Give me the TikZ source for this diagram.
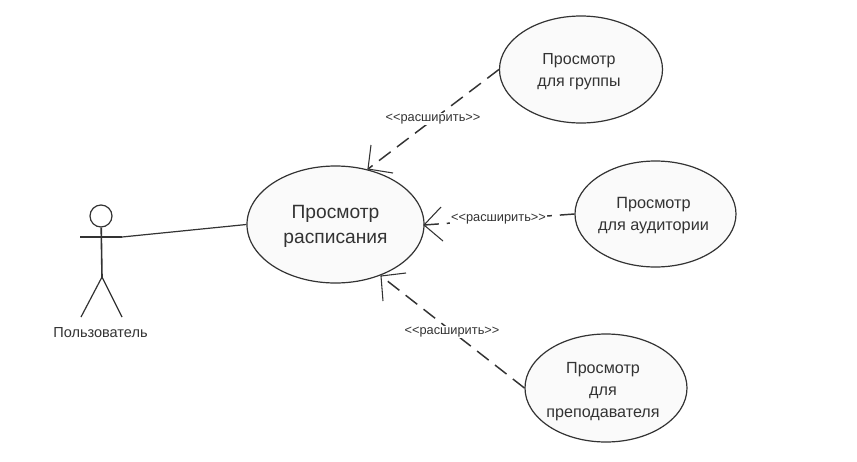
\documentclass[tikz,border=0pt]{standalone}
\usepackage{fontspec}
\setmainfont{Liberation Sans}
\usetikzlibrary{shapes.geometric}
\definecolor{ink}{gray}{0.2}
\definecolor{casefill}{gray}{0.98}
\tikzset{
  usecase/.style={draw=ink,fill=casefill,line width=0.9pt,ellipse,inner sep=0pt,align=center,text=ink},
  ext/.style={draw=ink,line width=1.1pt,dash pattern=on 11pt off 6pt},
  open/.style={draw=ink,line width=0.8pt},
  lbl/.style={font=\fontsize{9.6}{11}\selectfont,text=ink,inner sep=1pt,fill=white},
  limb/.style={draw=ink,line width=0.9pt}}
\begin{document}
\begin{tikzpicture}[x=0.75pt,y=-0.75pt]
\useasboundingbox (0,0) rectangle (857,461);
\fill[white] (0,0) rectangle (857,461);
\node[usecase,minimum width=132.75pt,minimum height=87.75pt,font=\fontsize{14.4}{18.75}\selectfont] (main) at (335.5,224.5) {\rule{0pt}{13pt}Просмотр\\расписания};
\node[usecase,minimum width=122.25pt,minimum height=80.25pt,font=\fontsize{12}{17}\selectfont] (g) at (581,69.5) {\rule{0pt}{11.3pt}Просмотр\kern3pt\\для группы\kern3pt};
\node[usecase,minimum width=120.75pt,minimum height=79.5pt,font=\fontsize{12.2}{17}\selectfont] (a) at (655.5,214) {\rule{0pt}{11pt}Просмотр\kern3pt\\\makebox[70pt]{для аудитории\kern3pt}};
\node[usecase,minimum width=121.5pt,minimum height=81pt,font=\fontsize{12.1}{16.5}\selectfont] (t) at (606,388) {\rule{0pt}{14.3pt}Просмотр\kern4.5pt\\для\kern4.5pt\\\makebox[70pt]{преподавателя\kern4.5pt}};
\node[draw=ink,line width=0.9pt,circle,minimum size=16.5pt,inner sep=0pt] (head) at (101,216) {};
\coordinate (hip) at (102,277);
\coordinate (la) at (80,237);
\coordinate (ra) at (122,237);
\coordinate (lf) at (81,317);
\coordinate (rf) at (122,317);
\draw[limb,line width=1.2pt] (head) -- (hip);
\draw[limb] (la) -- (ra);
\draw[limb] (hip) -- (lf);
\draw[limb] (hip) -- (rf);
\draw[limb] (ra) -- (main.west);
\node[font=\fontsize{10.9}{13}\selectfont,text=ink,inner sep=1pt] (actor) at (100.5,333) {Пользователь};
\coordinate (e1) at (368,169);
\coordinate (e2) at (424,225);
\coordinate (e3) at (381,276);
\draw[ext] (g.west) -- (e1);
\draw[ext] (a.west) -- (e2);
\draw[ext] (t.west) -- (e3);
\coordinate (a1) at (371,145);
\coordinate (b1) at (393,173);
\coordinate (a2) at (441,207);
\coordinate (b2) at (443,241);
\coordinate (a3) at (383,301);
\coordinate (b3) at (406,273);
\draw[open] (a1) -- (e1) -- (b1);
\draw[open] (a2) -- (e2) -- (b2);
\draw[open] (a3) -- (e3) -- (b3);
\node[lbl] (l1) at (433,119) {<{}<расширить>{}>};
\node[lbl] (l2) at (498.5,219) {<{}<расширить>{}>};
\node[lbl] (l3) at (452,332) {<{}<расширить>{}>};
\end{tikzpicture}
\end{document}
